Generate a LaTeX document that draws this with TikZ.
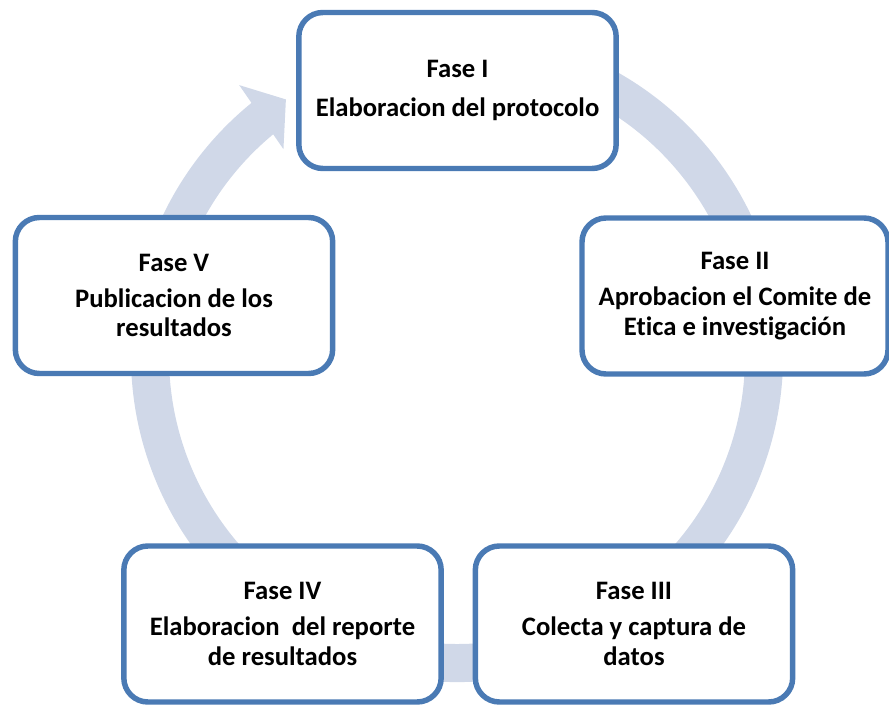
\documentclass[tikz,border=0pt]{standalone}
\usepackage{fontspec}
\setmainfont{Carlito}[Ligatures=NoCommon]
\tikzset{>=latex}
\definecolor{fase_line}{RGB}{74,122,180}
\definecolor{ring_fill}{RGB}{208,216,232}

\begin{document}
\begin{tikzpicture}[x=0.75pt, y=0.75pt]
	\tikzstyle{fase} = [rectangle, rounded corners=18pt, draw=fase_line, line width=4.1pt, fill=white, align=center, inner sep=0pt, minimum width=238pt, minimum height=117pt, font=\fontsize{20}{22}\selectfont\bfseries]
	\tikzstyle{ring} = [fill=ring_fill]

	\useasboundingbox (0,0) rectangle (889,704);

%----------anillo del ciclo------------------------------
	\coordinate (ctr) at (457,348);

	\fill[ring] ([shift={(110:326)}]ctr) arc[start angle=110, end angle=-231, radius=326]
		-- ([shift={(-231:288)}]ctr) arc[start angle=-231, end angle=110, radius=288] -- cycle;
	\fill[ring] ([shift={(128.8:347.6)}]ctr) -- ([shift={(123.7:308.4)}]ctr) -- ([shift={(130:270)}]ctr) -- cycle;

%----------fases------------------------------------------
	\node[fase] (f1) at (457.5,613.5) {Fase I\\[7pt] Elaboracion del protocolo};
	\node[fase, minimum width=229.5pt] (f2) at (735,408) {Fase II\\[5pt] Aprobacion el Comite de\\ Etica e investigación};
	\node[fase] (f3) at (634,80) {Fase III\\[5pt] Colecta y captura de\\ datos};
	\node[fase] (f4) at (282.5,80) {Fase IV\\[5pt] Elaboracion\ \ del reporte\\ de resultados};
	\node[fase] (f5) at (174,408.5) {Fase V\\[5pt] Publicacion de los\\ resultados};

\end{tikzpicture}
\end{document}
